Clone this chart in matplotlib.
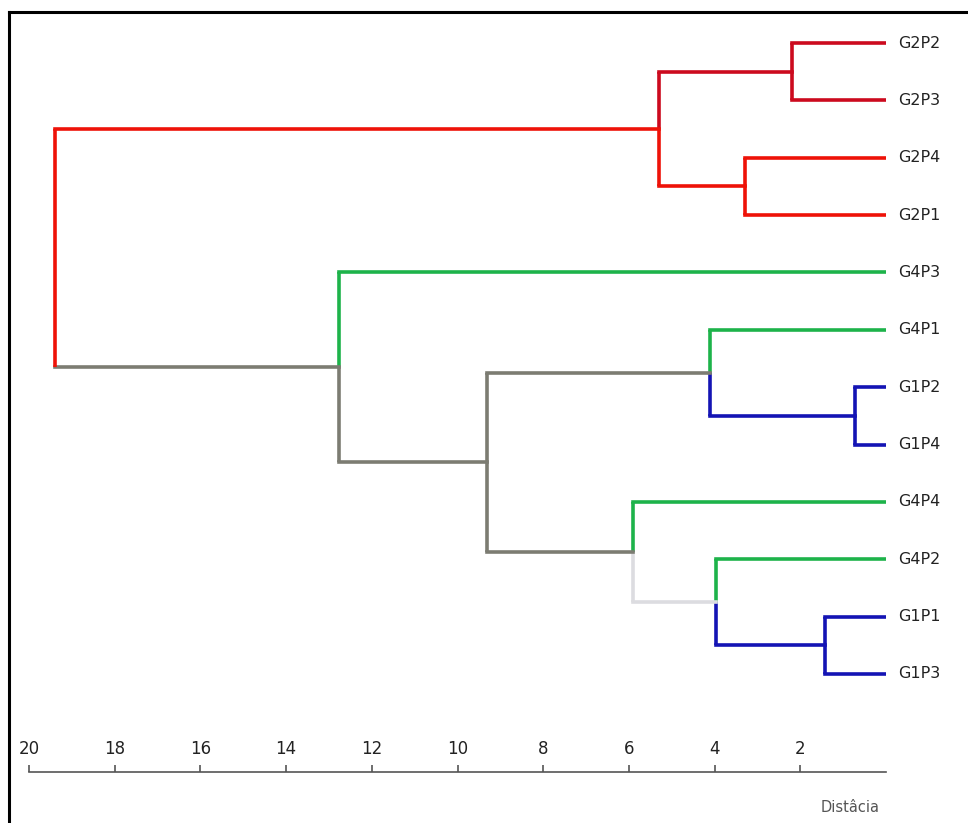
import matplotlib.pyplot as plt
from matplotlib.lines import Line2D
import numpy as np

# leaves, top to bottom
labels = ['G2P2', 'G2P3', 'G2P4', 'G2P1', 'G4P3', 'G4P1',
          'G1P2', 'G1P4', 'G4P4', 'G4P2', 'G1P1', 'G1P3']
# merges: (left child, right child, distance); new cluster ids start at 12
merge_a = [0, 2, 12, 6, 5, 10, 9, 8, 16, 4, 14]
merge_b = [1, 3, 13, 7, 15, 11, 17, 18, 19, 20, 21]
merge_h = [2.2, 3.3, 5.3, 0.72, 4.1, 1.43, 3.97, 5.9, 9.3, 12.76, 19.4]

# colour of the branch leading up from each node (leaves 0-11, clusters 12-22)
dred, red, green, blue, gray, lgray = '#cc0a1e', '#ee1208', '#1db34a', '#1414b4', '#7c7c72', '#dcdce0'
node_color = [dred, dred, red, red, green, green, blue, blue, green, green, blue, blue,
              dred, red, red, blue, gray, blue, lgray, gray, gray, gray, red]
# colour of the vertical part of that branch (root stem is all red)
vert_color = list(node_color)
vert_color[21] = red

n = len(labels)
ypos = {i: float(i) for i in range(n)}
hgt = {i: 0.0 for i in range(n)}

fig = plt.figure(figsize=(9.68, 8.23), dpi=100)
ax = fig.add_axes([29 / 968, 1 - 772 / 823, (886 - 29) / 968, (772 - 15) / 823])

for k, (a, b, h) in enumerate(zip(merge_a, merge_b, merge_h)):
    node = n + k
    ypos[node] = (ypos[a] + ypos[b]) / 2
    hgt[node] = h
    for c in (a, b):
        ax.plot([h, hgt[c]], [ypos[c], ypos[c]], color=node_color[c],
                lw=2.6, solid_capstyle='projecting')
        ax.plot([h, h], [ypos[node], ypos[c]], color=vert_color[c],
                lw=2.6, solid_capstyle='butt')

for i, lab in enumerate(labels):
    ax.text(-0.28, ypos[i], lab, ha='left', va='center', fontsize=11.5, color='#222222')

ax.set_xlim(20, 0)
ax.set_ylim(12.71, -0.49)
ax.set_xticks(np.arange(20, 1, -2))
ax.xaxis.tick_top()
ax.spines['top'].set_position(('axes', 0))
ax.spines['top'].set_color('#555555')
ax.spines['top'].set_linewidth(1.2)
for s in ['bottom', 'left', 'right']:
    ax.spines[s].set_visible(False)
ax.tick_params(axis='x', direction='out', length=5, width=1.2, color='#555555',
               labelsize=12, labelcolor='#222222', pad=5)
ax.set_yticks([])

fig.text(880 / 968, 1 - 808 / 823, 'Distâcia', ha='right', va='center',
         fontsize=10.5, color='#555555')

# outer frame (top and left only)
fig.add_artist(Line2D([9 / 968, 1], [1 - 12 / 823] * 2, color='black', lw=2.2,
                      transform=fig.transFigure))
fig.add_artist(Line2D([9 / 968] * 2, [0, 1 - 12 / 823], color='black', lw=2.2,
                      transform=fig.transFigure))

plt.savefig('out.png', dpi=100)
